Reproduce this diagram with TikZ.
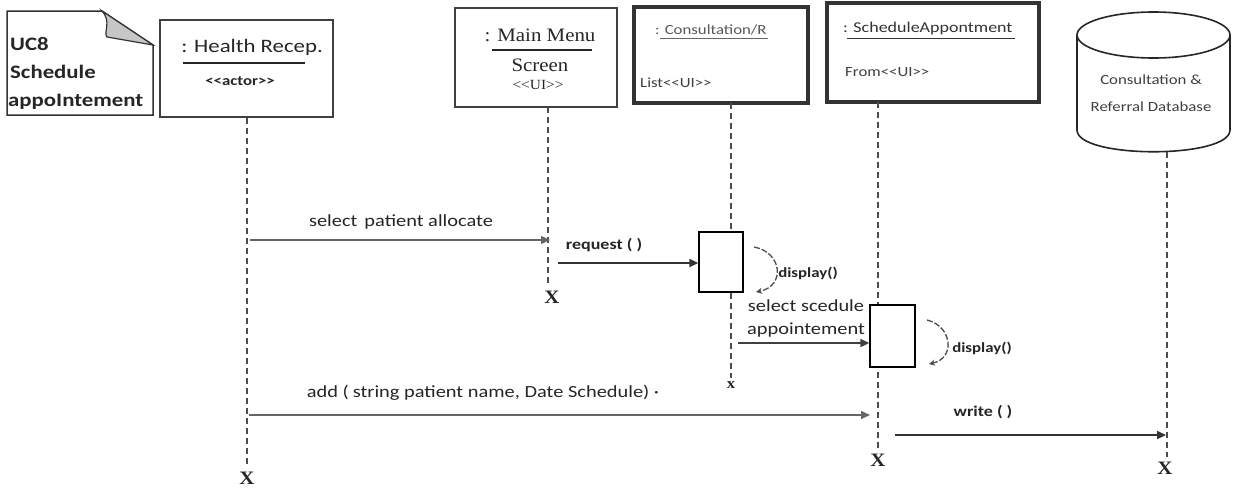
\documentclass[tikz,border=0pt]{standalone}
\usepackage{fontspec}
\setmainfont{Carlito}[FakeStretch=1.2]
\newfontfamily\tmsfont{Liberation Serif}[FakeStretch=1.1]
\usetikzlibrary{arrows.meta}
\begin{document}
\begin{tikzpicture}[x=1pt,y=-1pt,
  every node/.style={inner sep=0pt, text=black!85},
  lifeline/.style={draw=black!70, line width=1.1pt, dash pattern=on 6pt off 4pt},
  msg/.style={-{Triangle[length=9pt,width=8pt]}, line width=1.2pt, draw=black!60},
  msgbold/.style={-{Triangle[length=9pt,width=8pt]}, line width=2pt, draw=black!80},
  objthin/.style={draw=black!75, line width=1.6pt},
  objthick/.style={draw=black!80, line width=3.4pt},
  actbox/.style={draw=black, line width=1.3pt, fill=white},
  selfcall/.style={draw=black!70, line width=1.3pt, dash pattern=on 6pt off 2pt, -{Stealth[length=6pt,width=6pt]}},
  endmark/.style={font=\tmsfont\bfseries\fontsize{19}{19}\selectfont},
  lbl/.style={font=\fontsize{17}{17}\selectfont},
  lblb/.style={font=\bfseries\fontsize{15}{15}\selectfont},
]
\path[use as bounding box, fill=white] (0,0) rectangle (1238,488);

% --- use case note with folded corner
\draw[draw=black!80, line width=1.5pt, fill=white]
  (7,11) -- (102,11) -- (153,45) -- (153,115) -- (7,115) -- cycle;
\filldraw[fill=gray!45, draw=black!80, line width=1.2pt]
  (102,11) .. controls (112,22) and (103,32) .. (107,37) -- (153,45) -- cycle;
\node[anchor=base west, font=\bfseries\fontsize{19}{19}\selectfont] (uc1) at (10,50) {UC8};
\node[anchor=base west, font=\bfseries\fontsize{19}{19}\selectfont] (uc2) at (10,78) {Schedule};
\node[anchor=base west, font=\bfseries\fontsize{19}{19}\selectfont] (uc3) at (8,106) {appoIntement};

% --- object boxes
\node[objthin, minimum width=173pt, minimum height=97pt] (hr) at (246.5,68.5) {};
\node[font=\fontsize{19}{19}\selectfont] (hrname) at (252,47) {: Health Recep.};
\draw[black!85, line width=2pt] (183,63) -- (305,63);
\node[font=\bfseries\fontsize{14}{14}\selectfont] (hrst) at (240,81) {<{}<actor>{}>};

\node[objthin, minimum width=162pt, minimum height=99pt] (mm) at (536,57.5) {};
\node[font=\tmsfont\fontsize{19}{19}\selectfont] (mmname) at (540,35) {: Main Menu};
\draw[black!85, line width=2pt] (492,50) -- (592,50);
\node[font=\tmsfont\fontsize{19}{19}\selectfont] (mmname2) at (540,65) {Screen};
\node[font=\tmsfont\fontsize{14}{14}\selectfont] (mmst) at (538,85) {<{}<UI>{}>};

\node[objthick, minimum width=174pt, minimum height=96pt] (cr) at (721,55) {};
\node[anchor=west, font=\fontsize{14}{14}\selectfont, text=black!65] (crname) at (655,30) {: Consultation/R};
\draw[black!60, line width=0.8pt] (660,38) -- (768,38);
\node[anchor=west, font=\fontsize{14}{14}\selectfont, text=black!75] (crst) at (640,83) {List<{}<UI>{}>};

\node[objthick, minimum width=212pt, minimum height=99pt] (sa) at (933,52.5) {};
\node[anchor=west, font=\fontsize{15}{15}\selectfont, text=black!80] (saname) at (843,28) {: ScheduleAppontment};
\draw[black!80, line width=1pt] (847,38) -- (1015,38);
\node[anchor=west, font=\fontsize{14}{14}\selectfont, text=black!75] (sast) at (845,72) {From<{}<UI>{}>};

% --- database cylinder
\draw[black!85, line width=1.6pt, fill=white]
  (1077,35) -- (1077,130) .. controls (1077,159) and (1230,159) .. (1230,130) -- (1230,35);
\draw[black!85, line width=1.6pt] (1153.5,35) ellipse [x radius=76.5pt, y radius=23pt];
\node[align=center, font=\fontsize{14}{27}\selectfont, text=black!75] (db) at (1151,93) {Consultation \&\\Referral Database};

% --- lifeline ends
\node[endmark] (hrX) at (247,478) {X};
\node[endmark] (mmX) at (552,297) {X};
\node[endmark, font=\tmsfont\bfseries\fontsize{15}{15}\selectfont] (crX) at (731,385) {x};
\node[endmark] (saX) at (878,460) {X};
\node[endmark] (dbX) at (1165,468) {X};

\coordinate (hrtop) at (247,118);
\coordinate (mmtop) at (548,107);
\coordinate (crtop) at (731,103);
\coordinate (satop) at (878,102);
\coordinate (dbtop) at (1167,152);

\draw[lifeline] (hrtop) -- (247,466);
\draw[lifeline] (mmtop) -- (548,284);
\draw[lifeline] (crtop) -- (731,378);
\draw[lifeline] (satop) -- (878,448);
\draw[lifeline] (dbtop) -- (1167,457);

% --- activations
\node[actbox, minimum width=44pt, minimum height=60pt] (act1) at (721,262) {};
\node[actbox, minimum width=45pt, minimum height=62pt] (act2) at (892.5,336) {};

% --- messages
\coordinate (m1s) at (250,240);
\coordinate (m1e) at (550,240);
\draw[msg] (m1s) -- (m1e);
\node[lbl] (m1l) at (401,222) {select\hspace{7pt}patient allocate};

\coordinate (m2s) at (558,263);
\draw[msgbold] (m2s) -- (m2s -| act1.west);
\node[lblb] (m2l) at (604,245) {request ( )};

\coordinate (d1s) at (754,247);
\coordinate (d1e) at (756,292);
\draw[selfcall] (d1s) .. controls (782,252) and (786,286) .. (d1e);
\node[lblb, font=\bfseries\fontsize{14}{14}\selectfont] (d1l) at (808,273) {display()};

\coordinate (m3s) at (738,343);
\draw[msg, draw=black!75, line width=1.6pt] (m3s) -- (m3s -| act2.west);
\node[lbl, align=center, font=\fontsize{17}{23}\selectfont] (m3l) at (806,318) {select scedule\\appointement};

\coordinate (d2s) at (927,320);
\coordinate (d2e) at (929,364);
\draw[selfcall] (d2s) .. controls (952,326) and (956,358) .. (d2e);
\node[lblb, font=\bfseries\fontsize{14}{14}\selectfont] (d2l) at (982,348) {display()};

\coordinate (m4s) at (249,415);
\coordinate (m4e) at (870,415);
\draw[msg, line width=1.5pt] (m4s) -- (m4e);
\node[lbl] (m4l) at (483,393) {add (\hspace{4pt}string patient name, Date Schedule) ·};

\coordinate (m5s) at (895,435);
\coordinate (m5e) at (1166,435);
\draw[msgbold] (m5s) -- (m5e);
\node[lblb] (m5l) at (983,412) {write ( )};
\end{tikzpicture}
\end{document}
